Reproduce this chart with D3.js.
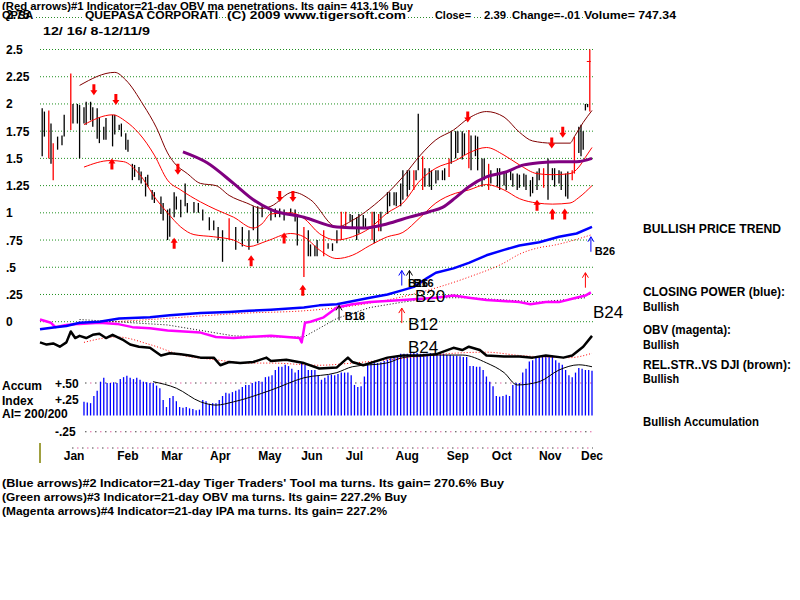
<!DOCTYPE html>
<html>
<head>
<meta charset="utf-8">
<script src="https://cdn.jsdelivr.net/npm/d3@7"></script>
<style>
  body { margin: 0; background: #fff; }
  text { font-family: "Liberation Sans", Arial, sans-serif; font-weight: bold; font-size: 11px; fill: #000; }
</style>
</head>
<body>
<svg id="chart" width="800" height="600"></svg>
<script>
// ---- data (trading day index from 12/16/08, price values) ----
var gridVals = [2.5, 2.25, 2, 1.75, 1.5, 1.25, 1, 0.75, 0.5, 0.25, 0];
var tickLabels = ["2.75", "2.5", "2.25", "2", "1.75", "1.5", "1.25", "1", ".75", ".5", ".25", "0"];
var tickVals = [2.75, 2.5, 2.25, 2, 1.75, 1.5, 1.25, 1, 0.75, 0.5, 0.25, 0];
var months = ["Jan", "Feb", "Mar", "Apr", "May", "Jun", "Jul", "Aug", "Sep", "Oct", "Nov", "Dec"];
var monthTickDay = [15.5, 40, 60, 82, 104.5, 123.6, 143, 167, 190, 210, 232, 251];

// [day, high, low]
var priceBars = [
  [1,1.96,1.52],[2,1.93,1.70],[4,1.94,1.50],[5,1.82,1.45],[6,1.64,1.30],[8,1.70,1.58],[10,1.71,1.62],[11,1.90,1.70],
  [14,2.28,1.76],[15,2.00,1.82],[17,2.00,1.82],[18,1.99,1.50],[20,1.97,1.82],[21,2.02,1.81],[23,2.02,1.85],[24,1.97,1.79],
  [26,1.96,1.68],[27,1.88,1.64],[29,1.79,1.67],[30,1.87,1.67],[33,1.90,1.61],[34,1.90,1.72],[36,1.81,1.76],[37,1.82,1.70],
  [39,1.73,1.58],[40,1.67,1.56],[42,1.45,1.30],[43,1.44,1.33],[45,1.42,1.30],[46,1.38,1.27],[48,1.33,1.15],[49,1.35,1.24],
  [51,1.21,1.12],[52,1.19,1.09],[55,1.15,0.99],[56,1.09,0.93],[58,1.03,0.75],[59,1.04,0.78],[61,1.19,0.96],[62,1.15,1.03],
  [64,1.12,0.96],[66,1.27,1.06],[67,1.09,1.00],[70,1.10,1.00],[72,1.09,1.00],[74,1.03,0.93],[77,0.96,0.84],[79,0.93,0.84],
  [81,0.87,0.75],[83,0.84,0.55],[86,0.95,0.75],[89,0.87,0.66],[92,0.87,0.69],[95,0.84,0.66],[97,1.06,0.84],[99,1.06,0.72],
  [101,1.06,0.96],[105,1.04,0.93],[107,1.04,0.96],[109,1.04,0.96],[111,1.03,0.93],[114,1.04,0.98],[116,1.03,0.92],[117,0.99,0.70],
  [120,0.87,0.41],[122,0.84,0.60],[123,0.71,0.60],[125,0.70,0.60],[126,0.75,0.60],[129,0.84,0.60],[131,0.72,0.67],[133,0.72,0.65],
  [135,0.84,0.72],[137,1.01,0.75],[139,1.01,0.87],[141,0.99,0.92],[142,0.98,0.87],[144,0.96,0.75],[145,0.99,0.81],[147,0.98,0.87],
  [148,0.95,0.87],[151,1.01,0.75],[152,1.01,0.72],[154,0.99,0.83],[155,1.01,0.83],[158,1.19,0.99],[159,1.19,1.06],[161,1.19,1.07],
  [162,1.19,1.06],[164,1.27,1.06],[165,1.39,1.12],[167,1.39,1.15],[168,1.39,1.21],[170,1.39,1.21],[171,1.39,1.30],[172,1.91,1.39],
  [174,1.52,1.21],[175,1.41,1.24],[177,1.41,1.24],[178,1.39,1.21],[180,1.39,1.27],[181,1.39,1.30],[183,1.39,1.30],[184,1.41,1.30],
  [186,1.50,1.33],[187,1.75,1.45],[189,1.75,1.50],[190,1.75,1.55],[192,1.75,1.49],[193,1.73,1.53],[195,1.76,1.41],[196,1.71,1.39],
  [198,1.71,1.52],[199,1.70,1.39],[201,1.50,1.24],[202,1.50,1.30],[204,1.45,1.21],[205,1.39,1.27],[208,1.41,1.24],[209,1.41,1.21],
  [211,1.36,1.25],[212,1.38,1.21],[214,1.39,1.30],[215,1.36,1.24],[217,1.36,1.21],[218,1.35,1.23],[220,1.36,1.24],[221,1.35,1.21],
  [223,1.30,1.15],[224,1.33,1.18],[226,1.38,1.21],[227,1.41,1.30],[229,1.41,1.23],[231,1.50,1.12],[233,1.41,1.30],[234,1.41,1.24],
  [236,1.39,1.27],[237,1.38,1.21],[239,1.36,1.15],[240,1.38,1.13],[242,1.39,1.30],[243,1.70,1.36],[245,1.79,1.55],[246,1.81,1.52],
  [247,1.75,1.58],[248,2.00,1.94],[249,2.00,1.97],[250,2.50,1.93]
];
var redBarDays = [4, 6, 14, 86, 120, 129, 137, 139, 151, 154, 170, 174, 186, 195, 204, 229, 242, 243, 250];
var lastClose = [250, 2.39];

var upperBand = [[18,2.17],[34,2.29],[39,2.22],[47,1.99],[53,1.78],[58,1.55],[61,1.46],[67,1.36],[73,1.27],[80,1.25],[86,1.16],
  [94,1.09],[101,1.04],[105,1.06],[115,1.19],[123,1.12],[135,0.87],[142,0.93],[150,1.04],[158,1.18],[165,1.33],[173,1.53],
  [180,1.67],[188,1.76],[195,1.87],[203,1.93],[211,1.88],[218,1.74],[224,1.66],[233,1.64],[241,1.64],[243,1.70],[247,1.83],[251,1.94]];
var midBand = [[20,1.81],[33,1.90],[39,1.84],[45,1.73],[52,1.53],[58,1.30],[64,1.21],[73,1.10],[80,1.03],[88,0.96],[97,0.86],
  [101,0.90],[105,0.99],[114,1.00],[120,0.95],[127,0.81],[135,0.75],[142,0.78],[150,0.86],[158,1.00],[165,1.09],[173,1.30],
  [180,1.41],[189,1.48],[195,1.55],[203,1.60],[211,1.53],[218,1.44],[226,1.36],[233,1.35],[241,1.36],[245,1.42],[248,1.51],[251,1.60]];
var lowBand = [[20,1.42],[32,1.48],[38,1.47],[45,1.36],[53,1.12],[58,1.00],[64,0.87],[70,0.80],[79,0.78],[88,0.75],[95,0.69],
  [103,0.74],[114,0.81],[120,0.78],[127,0.66],[135,0.58],[142,0.61],[150,0.70],[158,0.78],[165,0.82],[173,0.96],[180,1.09],
  [189,1.18],[195,1.21],[203,1.26],[211,1.21],[218,1.13],[226,1.09],[233,1.08],[241,1.09],[245,1.14],[251,1.25]];
var ma50 = [[65,1.56],[76,1.46],[88,1.27],[97,1.12],[105,1.03],[120,0.96],[135,0.87],[147,0.86],[158,0.90],[168,0.96],[177,1.01],
  [183,1.05],[189,1.14],[195,1.24],[203,1.33],[211,1.37],[220,1.44],[227,1.46],[236,1.47],[244,1.47],[251,1.50]];

var closingPower = [[0,-0.07],[7,-0.05],[12,-0.04],[18,-0.01],[27,0.0],[36,0.03],[50,0.04],[59,0.06],[73,0.08],[86,0.09],
  [95,0.10],[105,0.11],[120,0.13],[127,0.15],[135,0.16],[150,0.22],[158,0.25],[165,0.29],[170,0.32],[176,0.40],[180,0.45],
  [188,0.49],[195,0.54],[203,0.61],[211,0.66],[218,0.70],[227,0.73],[236,0.78],[244,0.81],[251,0.87]];
var closingPowerMa = [[18,-0.02],[50,0.02],[95,0.08],[120,0.10],[150,0.17],[165,0.23],[180,0.31],[195,0.41],[211,0.54],
  [218,0.62],[227,0.68],[233,0.70],[251,0.80]];
var obv = [[0,0.02],[5,-0.01],[7,-0.05],[12,-0.03],[18,-0.02],[27,-0.01],[35,-0.02],[42,-0.05],[50,-0.06],[58,-0.08],[73,-0.10],
  [80,-0.14],[88,-0.15],[95,-0.14],[105,-0.13],[118,-0.15],[119,-0.19],[120.5,-0.01],[123,0.0],[129,0.04],[135,0.13],[142,0.16],
  [150,0.18],[165,0.20],[180,0.22],[188,0.24],[195,0.22],[203,0.20],[218,0.18],[223,0.16],[230,0.18],[236,0.18],[242,0.21],
  [248,0.24],[250.5,0.27]];
var obvMa = [[18,0.02],[42,-0.01],[58,-0.03],[73,-0.08],[88,-0.13],[105,-0.14],[120,-0.14],[135,0.03],[150,0.13],[165,0.18],
  [180,0.22],[195,0.22],[211,0.20],[227,0.18],[248,0.22]];
var relStrength = [[0,-0.19],[3,-0.21],[6,-0.20],[9,-0.23],[12,-0.19],[14,-0.09],[16,-0.15],[18,-0.13],[21,-0.15],[24,-0.12],
  [27,-0.11],[30,-0.15],[33,-0.12],[38,-0.17],[41,-0.21],[45,-0.23],[50,-0.24],[55,-0.31],[59,-0.29],[64,-0.30],[68,-0.31],
  [73,-0.33],[79,-0.33],[82,-0.40],[86,-0.37],[91,-0.38],[97,-0.37],[103,-0.33],[105,-0.36],[112,-0.35],[120,-0.38],[127,-0.43],
  [135,-0.42],[140,-0.33],[142,-0.37],[147,-0.40],[150,-0.38],[158,-0.33],[165,-0.31],[173,-0.31],[180,-0.30],[188,-0.24],
  [192,-0.26],[195,-0.23],[200,-0.26],[203,-0.31],[211,-0.32],[218,-0.32],[224,-0.33],[230,-0.31],[238,-0.33],[242,-0.31],
  [247,-0.23],[251,-0.13]];
var relStrengthMa = [[20,-0.19],[35,-0.14],[50,-0.21],[65,-0.31],[80,-0.35],[95,-0.38],[105,-0.38],[127,-0.40],[142,-0.38],
  [158,-0.35],[173,-0.32],[188,-0.29],[203,-0.28],[218,-0.31],[241,-0.33],[251,-0.29]];

// accumulation index, one value every 1.5 trading days from day 20
var accumStart = 20, accumStep = 1.5;
var accum = [
  0.21,0.20,0.19,0.30,0.38,0.52,0.58,0.50,0.50,0.51,
  0.50,0.56,0.59,0.61,0.58,0.56,0.58,0.55,0.52,0.51,
  0.50,0.50,0.46,0.42,0.24,0.13,0.27,0.30,0.22,0.13,
  0.12,0.13,0.11,0.10,0.08,0.09,0.24,0.22,0.18,0.19,
  0.19,0.24,0.30,0.35,0.34,0.36,0.38,0.40,0.44,0.47,
  0.47,0.50,0.52,0.53,0.52,0.59,0.60,0.62,0.70,0.75,
  0.75,0.78,0.76,0.72,0.66,0.70,0.81,0.78,0.70,0.70,
  0.70,0.62,0.55,0.58,0.62,0.63,0.62,0.64,0.66,0.66,
  0.66,0.62,0.47,0.44,0.45,0.60,0.78,0.80,0.81,0.81,
  0.82,0.84,0.86,0.88,0.90,0.92,0.95,0.95,0.95,0.96,
  0.96,0.96,0.95,0.95,0.95,0.96,0.95,0.95,0.95,0.95,
  0.93,0.93,0.92,0.92,0.91,0.90,0.90,0.76,0.76,0.75,
  0.75,0.70,0.60,0.52,0.45,0.30,0.29,0.30,0.32,0.30,
  0.47,0.50,0.50,0.66,0.72,0.83,0.85,0.89,0.90,0.91,
  0.93,0.93,0.92,0.85,0.81,0.78,0.70,0.62,0.59,0.66,
  0.73,0.72,0.70,0.70,0.69
];
var accumMa = [[51.4,0.52],[62,0.42],[73,0.21],[80,0.16],[88,0.21],[105,0.39],[120,0.58],[135,0.66],[142,0.75],[158,0.81],
  [165,0.89],[180,0.93],[192,0.93],[203,0.81],[211,0.66],[217,0.47],[227,0.52],[236,0.70],[245,0.78],[251,0.75]];
var accumGrid = [0.5, -0.25, -0.5];

// signal arrows: [day, price at tip]
var sellArrows = [[24.5,2.08],[34.5,1.99],[62.7,1.35],[109,1.10],[115,1.10],[194.5,1.83],[232.7,1.59],[237.7,1.69]];
var buyArrows = [[32.7,1.50],[61,0.77],[96,0.61],[111,0.82],[119.5,0.34],[226,1.12],[233,1.04],[238.6,1.04]];
var redThinArrows = [[164.5,0.125],[248,0.45]];
var blueThinArrows = [[164.5,0.47],[250.5,0.78]];
var blackThinArrows = [[168,0.47],[136,0.15]];
var smallSignals = [["B18",138.6,0.016],["B26",167.3,0.32],["B16",169.8,0.32],["B26",252.3,0.61]];
var bigSignals = [["B20",170.5,0.18],["B12",167.3,-0.076],["B24",167.3,-0.29],["B24",251.4,0.034]];

// ---- drawing ----
var svg = d3.select("#chart");
var x = d3.scaleLinear().domain([0, 251]).range([40, 592]);
var y = d3.scaleLinear().domain([0, 2.5]).range([321.7, 49.5]);
var ya = d3.scaleLinear().domain([0, 0.5]).range([415.5, 383]);

function label(px, py, s, len) {
  var t = svg.append("text").attr("x", px).attr("y", py).text(s);
  if (len) t.attr("textLength", len).attr("lengthAdjust", "spacingAndGlyphs");
  return t;
}

// header
label(2, 9.5, "(Red arrows)#1 Indicator=21-day OBV ma penetrations. Its gain= 413.1% Buy", 411);
svg.append("line").attr("x1", 30).attr("x2", 676).attr("y1", 17.5).attr("y2", 17.5)
  .attr("stroke", "#2a8a2a").attr("stroke-dasharray", "1,2");
[[2, "QPSA", 0], [85, "QUEPASA CORPORATI", 133], [227, "(C) 2009 www.tigersoft.com", 179],
 [435, "Close=", 36], [484, "2.39", 22], [512, "Change=-.01", 68], [584, "Volume= 747.34", 92]].forEach(function (p) {
  var t = label(p[0], 19, p[1], p[2] || null);
  var b = t.node().getBBox();
  svg.insert("rect", "text:last-of-type").attr("x", b.x - 1).attr("y", b.y + 1).attr("width", b.width + 2)
    .attr("height", b.height - 1).attr("fill", "#fff");
  t.raise();
});
label(43, 35, "12/ 16/ 8-12/11/9", 107);

// price grid
svg.selectAll(".grid").data(gridVals).enter().append("line")
  .attr("x1", 40).attr("x2", 593).attr("y1", function (d) { return y(d); }).attr("y2", function (d) { return y(d); })
  .attr("stroke", "#1f8f1f").attr("stroke-dasharray", "1,2");

// y labels (2.75 is printed over the symbol in the header row)
tickVals.forEach(function (v, i) {
  var py = v > 2.5 ? 19 : y(v) + 4.5;
  label(6, py, tickLabels[i]).style("font-size", "12px");
});

// accumulation grid
accumGrid.forEach(function (v) {
  var x0 = v === -0.5 ? 72 : 85;
  svg.append("line").attr("x1", x0).attr("x2", 593).attr("y1", ya(v)).attr("y2", ya(v))
    .attr("stroke", "#444").attr("stroke-dasharray", "1.5,8.5");
  svg.append("line").attr("x1", x0 + 5).attr("x2", 593).attr("y1", ya(v)).attr("y2", ya(v))
    .attr("stroke", "#e060a0").attr("stroke-dasharray", "1.5,8.5");
});

// accumulation histogram
svg.selectAll(".acc").data(accum).enter().append("line")
  .attr("x1", function (d, i) { return x(accumStart + i * accumStep); })
  .attr("x2", function (d, i) { return x(accumStart + i * accumStep); })
  .attr("y1", ya(0)).attr("y2", function (d) { return ya(d); })
  .attr("stroke", "#0000ff").attr("stroke-width", 1.3);

function drawLine(data, scale, color, width, dash, curve) {
  var line = d3.line()
    .x(function (d) { return x(d[0]); })
    .y(function (d) { return scale(d[1]); })
    .curve(curve || d3.curveLinear);
  var p = svg.append("path").datum(data).attr("d", line)
    .attr("fill", "none").attr("stroke", color).attr("stroke-width", width)
    .attr("stroke-linejoin", "round");
  if (dash) p.attr("stroke-dasharray", dash);
  return p;
}

drawLine(accumMa, ya, "#000", 1, null, d3.curveMonotoneX);

// indicator lines
drawLine(closingPowerMa, y, "#ff0000", 1, "1,2", d3.curveMonotoneX);
drawLine(obvMa, y, "#000", 1, "1,2");
drawLine(relStrengthMa, y, "#ff0000", 1, "1,2", d3.curveMonotoneX);
drawLine(obv, y, "#ff00ff", 2.5);
drawLine(closingPower, y, "#0000ff", 2.5);
drawLine(relStrength, y, "#000", 2.5);

// price bars
priceBars.forEach(function (b) {
  svg.append("line").attr("x1", x(b[0])).attr("x2", x(b[0])).attr("y1", y(b[1])).attr("y2", y(b[2]))
    .attr("stroke", redBarDays.indexOf(b[0]) >= 0 ? "#ff0000" : "#000").attr("stroke-width", 1.3);
});
svg.append("line").attr("x1", x(lastClose[0]) - 3).attr("x2", x(lastClose[0]) + 1)
  .attr("y1", y(lastClose[1])).attr("y2", y(lastClose[1])).attr("stroke", "#ff0000");

// bands and moving average
drawLine(upperBand, y, "#800000", 1, null, d3.curveMonotoneX);
drawLine(midBand, y, "#ff0000", 1, null, d3.curveMonotoneX);
drawLine(lowBand, y, "#ff0000", 1, null, d3.curveMonotoneX);
drawLine(ma50, y, "#800080", 3, null, d3.curveMonotoneX);

// thick red signal arrows
function thickArrow(d, dir) {
  var tx = x(d[0]), ty = y(d[1]);
  var s = dir; // +1 points down, -1 points up
  var path = "M" + (tx - 1.5) + "," + (ty - s * 11) + "L" + (tx + 1.5) + "," + (ty - s * 11) +
    "L" + (tx + 1.5) + "," + (ty - s * 5) + "L" + (tx + 3.5) + "," + (ty - s * 5) +
    "L" + tx + "," + ty + "L" + (tx - 3.5) + "," + (ty - s * 5) + "L" + (tx - 1.5) + "," + (ty - s * 5) + "Z";
  svg.append("path").attr("d", path).attr("fill", "#ff0000");
}
sellArrows.forEach(function (d) { thickArrow(d, 1); });
buyArrows.forEach(function (d) { thickArrow(d, -1); });

function thinArrow(d, color) {
  var tx = x(d[0]), ty = y(d[1]);
  svg.append("path").attr("d", "M" + tx + "," + (ty + 15) + "L" + tx + "," + ty +
    "M" + (tx - 3) + "," + (ty + 5) + "L" + tx + "," + ty + "L" + (tx + 3) + "," + (ty + 5))
    .attr("fill", "none").attr("stroke", color).attr("stroke-width", 1);
}
redThinArrows.forEach(function (d) { thinArrow(d, "#ff0000"); });
blueThinArrows.forEach(function (d) { thinArrow(d, "#0000ff"); });
blackThinArrows.forEach(function (d) { thinArrow(d, "#000"); });

smallSignals.forEach(function (s) { label(x(s[1]), y(s[2]), s[0]); });
bigSignals.forEach(function (s) {
  label(x(s[1]), y(s[2]), s[0]).style("font-weight", "normal").style("font-size", "17px");
});

// accumulation labels
label(2, 390, "Accum").style("font-size", "12px");
label(2, 404.5, "Index").style("font-size", "12px");
label(2, 418, "AI= 200/200").style("font-size", "12px");
label(55, 387.5, "+.50").style("font-size", "12px");
label(55, 404, "+.25").style("font-size", "12px");
label(55, 436, "-.25").style("font-size", "12px");

// right side notes
[["BULLISH PRICE TREND", 232.5, 138], ["CLOSING POWER (blue):", 296, 142], ["Bullish", 311, 36],
 ["OBV (magenta):", 334.3, 88], ["Bullish", 348.5, 36], ["REL.STR..VS DJI (brown):", 369.3, 148],
 ["Bullish", 382.8, 36], ["Bullish Accumulation", 426, 116]].forEach(function (r) {
  label(643, r[1], r[0], r[2]).style("font-size", "12px");
});

// months
svg.append("line").attr("x1", 40).attr("x2", 40).attr("y1", 443).attr("y2", 463)
  .attr("stroke", "#808000").attr("stroke-width", 1.5);
months.forEach(function (m, i) {
  label(x(monthTickDay[i]), 459.5, m).attr("text-anchor", "middle").style("font-size", "12px");
});

// footer
label(2, 487, "(Blue arrows)#2 Indicator=21-day Tiger Traders' Tool ma turns. Its gain= 270.6% Buy", 502);
label(2, 501, "(Green arrows)#3 Indicator=21-day OBV ma turns. Its gain= 227.2% Buy", 405);
label(2, 514.5, "(Magenta arrows)#4 Indicator=21-day IPA ma turns. Its gain= 227.2%", 385);
</script>
</body>
</html>
